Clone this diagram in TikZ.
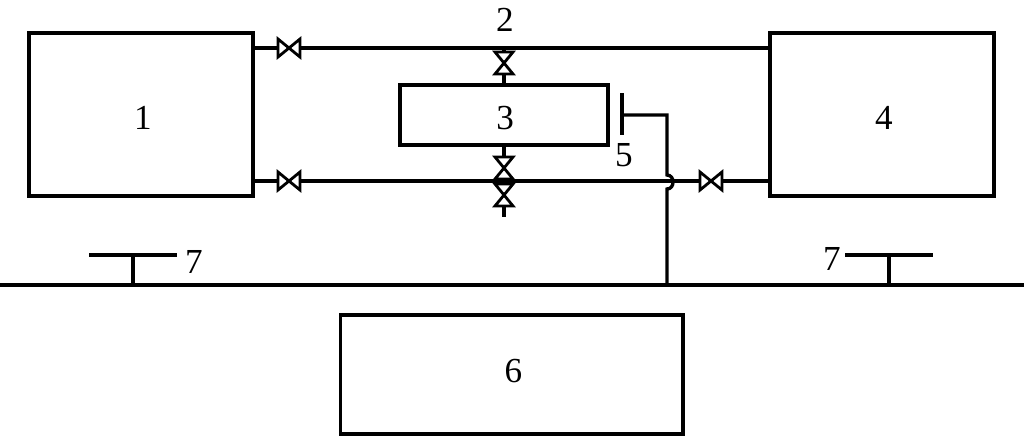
\documentclass[tikz,border=0pt]{standalone}
\usepackage{fontspec}
\setmainfont{Liberation Serif}
\usetikzlibrary{positioning, calc}

\begin{document}
\begin{tikzpicture}[
    x=0.02cm, y=-0.02cm,
    every node/.style={align=center, font=\fontsize{20}{24}\selectfont},
    unitbox/.style={rectangle, draw, line width=1.75pt, outer sep=0pt, inner sep=0pt, text height=17pt, text depth=0pt},
    pipe/.style={line width=1.9pt},
    tag/.style={inner sep=0pt},
    valve/.pic={\draw[line width=1.6pt, fill=white] (-11,-9) -- (11,9) -- (11,-9) -- (-11,9) -- cycle;}
]
\useasboundingbox (0,0) rectangle (1024,437);

% units
\node[unitbox, minimum width=4.48cm, minimum height=3.26cm] (source) at (141,114.5) {\kern2.2pt 1};
\node[unitbox, minimum width=4.16cm, minimum height=1.2cm] (meter) at (504,115) {\kern1.2pt 3};
\node[unitbox, minimum width=4.48cm, minimum height=3.26cm] (load) at (882,114.5) {\kern2.2pt 4};
\node[unitbox, minimum width=6.86cm, minimum height=2.38cm, text height=13.5pt, text depth=4pt] (control) at (511.5,374.5) {\kern2.2pt 6};

% junctions
\coordinate (topleft) at (source.east |- 0,48);
\coordinate (topright) at (load.west |- 0,48);
\coordinate (lowleft) at (source.east |- 0,181);
\coordinate (lowright) at (load.west |- 0,181);
\coordinate (topmid) at (meter.north |- 0,48);
\coordinate (stemend) at (meter.south |- 0,217);
\coordinate (busleft) at (0,285);
\coordinate (busright) at (1024,285);
\coordinate (probetop) at (622,93);
\coordinate (probebot) at (622,135);
\coordinate (probemid) at (622,115);
\coordinate (elbow) at (667,115);
\coordinate (bumptop) at (667,175);
\coordinate (bumpbot) at (667,189);
\coordinate (busjoin) at (667,285);
\coordinate (antlfoot) at (133,285);
\coordinate (antltop) at (133,255);
\coordinate (antlw) at (89,255);
\coordinate (antle) at (177,255);
\coordinate (antrfoot) at (889,285);
\coordinate (antrtop) at (889,255);
\coordinate (antrw) at (845,255);
\coordinate (antre) at (933,255);

% pipes
\draw[pipe] (topleft) -- (topright);
\draw[pipe] (lowleft) -- (lowright);
\draw[pipe] (topmid) -- (meter.north);
\draw[pipe] (meter.south) -- (stemend);

% bus and antennas
\draw[pipe] (busleft) -- (busright);
\draw[pipe] (probetop) -- (probebot);
\draw[pipe] (probemid) -- (elbow) -- (bumptop) .. controls (675,175) and (675,189) .. (bumpbot) -- (busjoin);
\draw[pipe] (antlw) -- (antle);
\draw[pipe] (antltop) -- (antlfoot);
\draw[pipe] (antrw) -- (antre);
\draw[pipe] (antrtop) -- (antrfoot);

% valves
\pic at (289,48) {valve};
\pic at (289,181) {valve};
\pic at (711,181) {valve};
\pic[rotate=90] at (504,63) {valve};
\pic[rotate=90] at (504,168) {valve};
\pic[rotate=90] at (504,195) {valve};

% labels
\node[tag] (numtwo) at (505,20) {2};
\node[tag] (numfive) at (624,155) {5};
\node[tag] (numsevenl) at (194,262) {7};
\node[tag] (numsevenr) at (832,259) {7};

\end{tikzpicture}
\end{document}
